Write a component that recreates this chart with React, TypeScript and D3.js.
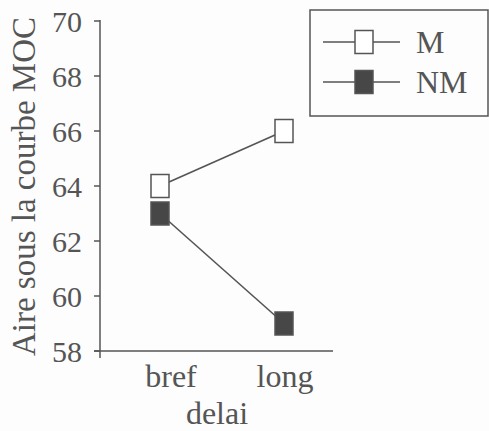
import React from "react";
import * as d3 from "d3";

const categories = ["bref", "long"];
const seriesNames = ["M", "NM"];
const valuesM = [64, 66];
const valuesNM = [63, 59];
const yTicks = [58, 60, 62, 64, 66, 68, 70];
const yTitle = "Aire sous la courbe MOC";
const xTitle = "delai";

const W = 489;
const H = 431;
const INK = "#555";
const FILL = "#474747";
const BASE = 28;

const y = d3.scaleLinear().domain([58, 70]).range([351, 21]);
const x = d3.scalePoint<string>().domain(categories).range([160, 284]);
const axisX = 100;
const mw = 18;
const mh = 23;

const series = [
  { name: seriesNames[0], values: valuesM, fill: "#ffffff" },
  { name: seriesNames[1], values: valuesNM, fill: FILL },
];

const line = d3
  .line<number>()
  .x((_, i) => x(categories[i]) as number)
  .y((v) => y(v));

function T(props: {
  x: number;
  y: number;
  size: number;
  anchor?: "start" | "middle" | "end";
  rotate?: number;
  children: React.ReactNode;
}) {
  const { x: tx, y: ty, size, anchor = "start", rotate = 0, children } = props;
  return (
    <text
      transform={`translate(${tx},${ty}) rotate(${rotate}) scale(${size / BASE})`}
      fontSize={BASE}
      fill={INK}
      textAnchor={anchor}
      style={{ fontFamily: `"Liberation Serif", monospace` }}
    >
      {children}
    </text>
  );
}

export default function App() {
  const [y0, y1] = y.range();
  return (
    <svg width={W} height={H} style={{ position: "absolute", left: 0, top: 0, display: "block" }}>
      <rect width={W} height={H} fill="#fdfdfd" />

      {/* y axis */}
      <line x1={axisX} x2={axisX} y1={y1 - 1} y2={y0 + 7} stroke={INK} strokeWidth={1.5} />
      <line x1={axisX - 6} x2={333} y1={y0} y2={y0} stroke={INK} strokeWidth={1.5} />
      {yTicks.map((t) => (
        <g key={t}>
          <line x1={axisX - 6} x2={axisX} y1={y(t)} y2={y(t)} stroke={INK} strokeWidth={1.5} />
          <T x={axisX - 18} y={y(t) + 11} size={30} anchor="end">
            {d3.format("d")(t)}
          </T>
        </g>
      ))}

      {/* x labels */}
      {categories.map((c, i) => (
        <T key={c} x={(x(c) as number) + (i === 0 ? 11 : 1)} y={y0 + 36} size={32} anchor="middle">
          {c}
        </T>
      ))}
      <T x={217} y={424} size={32} anchor="middle">
        {xTitle}
      </T>
      <T x={35} y={186.5} size={33} anchor="middle" rotate={-90}>
        {yTitle}
      </T>

      {/* series */}
      {series.map((s) => (
        <path key={s.name} d={line(s.values) as string} fill="none" stroke={INK} strokeWidth={1.6} />
      ))}
      {series.map((s) =>
        s.values.map((v, i) => (
          <rect
            key={s.name + i}
            x={(x(categories[i]) as number) - mw / 2}
            y={y(v) - mh / 2}
            width={mw}
            height={mh}
            fill={s.fill}
            stroke={INK}
            strokeWidth={1.5}
          />
        ))
      )}

      {/* legend */}
      <rect x={310} y={10} width={178} height={106} fill="none" stroke={INK} strokeWidth={1.5} />
      {series.map((s, i) => {
        const cy = 42 + i * 40;
        return (
          <g key={s.name}>
            <line x1={323} x2={400} y1={cy} y2={cy} stroke={INK} strokeWidth={1.6} />
            <rect x={364 - mw / 2} y={cy - mh / 2} width={mw} height={mh} fill={s.fill} stroke={INK} strokeWidth={1.5} />
            <T x={416} y={cy + 11} size={32}>
              {s.name}
            </T>
          </g>
        );
      })}
    </svg>
  );
}
